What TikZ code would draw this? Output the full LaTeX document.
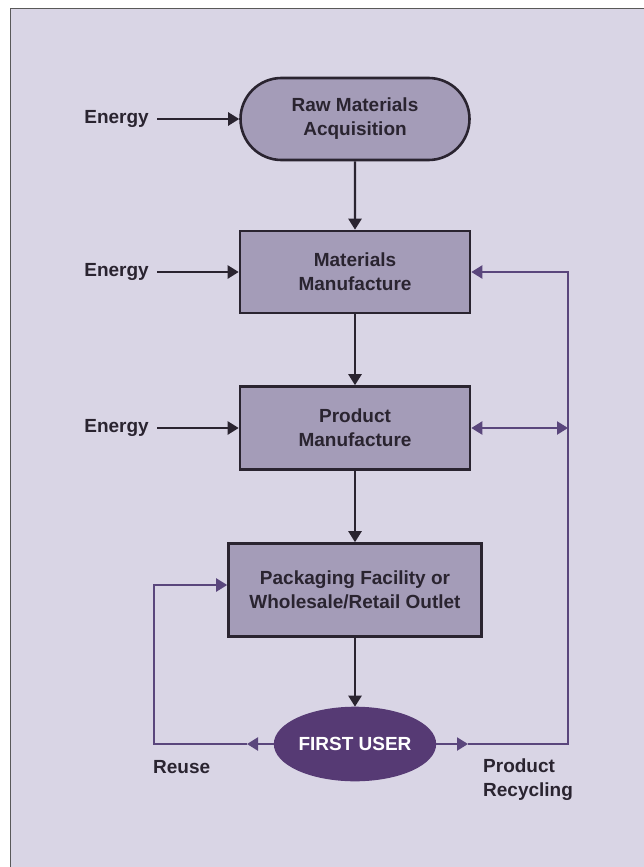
\documentclass[tikz,border=0pt]{standalone}
\usepackage{fontspec}
\setmainfont{Liberation Sans}
\usetikzlibrary{arrows.meta,shapes.misc,shapes.geometric}
\definecolor{bgpage}{RGB}{217,213,229}
\definecolor{boxfill}{RGB}{164,156,184}
\definecolor{boxline}{RGB}{42,36,48}
\definecolor{userfill}{RGB}{86,58,116}
\definecolor{backline}{RGB}{90,70,124}
\tikzset{
  stage/.style={draw=boxline,line width=2.6pt,fill=boxfill,align=center,text=boxline,
    font=\fontsize{19}{24}\selectfont\bfseries,inner sep=0pt},
  lbl/.style={text=boxline,align=left,font=\fontsize{19}{24}\selectfont\bfseries,inner sep=2pt},
  energy/.style={lbl,anchor=east,inner xsep=8pt},
  flow/.style={draw=boxline,line width=2.4pt,-{Triangle[length=11pt,width=13pt]}},
  back/.style={draw=backline,line width=2.2pt},
  tipped/.style={-{Triangle[length=11pt,width=13pt]}}
}
\begin{document}
\begin{tikzpicture}[x=1pt,y=-1pt]
    \useasboundingbox (0,0) rectangle (644,867);
    \fill[white] (0,0) rectangle (644,867);
    \filldraw[fill=bgpage,draw=gray!70!black,line width=0.8pt] (10,8) rectangle (650,875);

    \node[stage,rounded rectangle,minimum width=229pt,minimum height=82pt] (raw) at (355,119) {Raw Materials\\Acquisition};
    \node[stage,minimum width=230pt,minimum height=82pt] (mat) at (355,272) {Materials\\Manufacture};
    \node[stage,minimum width=230pt,minimum height=83pt] (prod) at (355,428) {Product\\Manufacture};
    \node[stage,minimum width=253pt,minimum height=93pt] (pack) at (355,590) {Packaging Facility or\\Wholesale/Retail Outlet};
    \node[stage,ellipse,draw=userfill,fill=userfill,text=white,minimum width=150pt,minimum height=72pt] (user) at (355,744) {FIRST USER};

    \node[energy] (e1) at (157,119) {Energy};
    \node[energy] (e2) at (157,272) {Energy};
    \node[energy] (e3) at (157,428) {Energy};
    \node[lbl,anchor=north west] (reuse) at (151,758) {Reuse};
    \node[lbl,anchor=north west] (recyc) at (481,757) {Product\\Recycling};

    \coordinate (reuseTip) at (247,744);
    \coordinate (reuseCorner) at (154,744);
    \coordinate (recTip) at (468,744);
    \coordinate (recCorner) at (568,744);
    \coordinate (junc) at (568,428);

    \draw[flow] (e1) -- (raw);
    \draw[flow] (e2) -- (mat);
    \draw[flow] (e3) -- (prod);
    \draw[flow] (raw) -- (mat);
    \draw[flow] (mat) -- (prod);
    \draw[flow] (prod) -- (pack);
    \draw[flow] (pack) -- (user);

    \draw[back,tipped] (user.west) -- (reuseTip);
    \draw[back,tipped] (reuseTip) -- (reuseCorner) |- ([yshift=5pt]pack.west);
    \draw[back,tipped] (user.east) -- (recTip);
    \draw[back,tipped] (recTip) -- (recCorner) |- (mat.east);
    \draw[back,{Triangle[length=11pt,width=13pt]}-{Triangle[length=11pt,width=13pt]}] (prod.east) -- (junc);
\end{tikzpicture}
\end{document}
